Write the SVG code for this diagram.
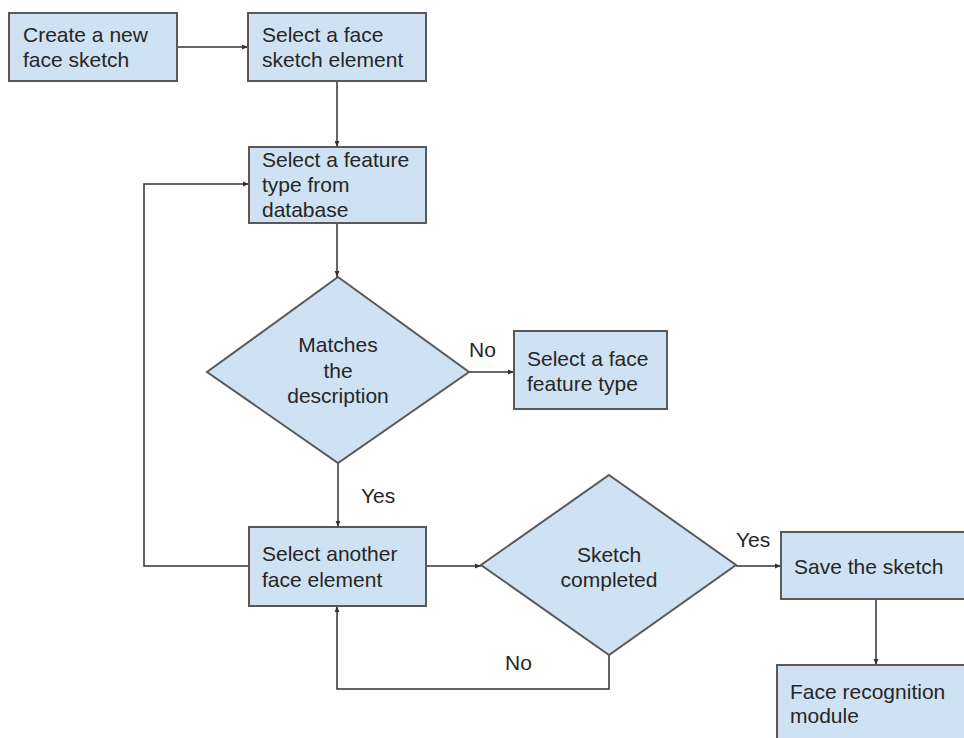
<svg xmlns="http://www.w3.org/2000/svg" width="964" height="738" viewBox="0 0 964 738">
<defs>
<marker id="ah" viewBox="0 0 10 10" refX="10" refY="5" markerWidth="6" markerHeight="6" markerUnits="userSpaceOnUse" orient="auto">
<path d="M0,1 L10,5 L0,9 z" fill="#333333"/>
</marker>
<style>
.n{fill:#cfe2f3;stroke:#595959;stroke-width:2}
.t{font-family:"Liberation Sans",Arial,sans-serif;font-size:21px;fill:#262626}
.c{text-anchor:middle}
.e{fill:none;stroke:#333333;stroke-width:1.5;marker-end:url(#ah)}
.l{fill:none;stroke:#333333;stroke-width:1.5}
</style>
</defs>
<rect width="964" height="738" fill="#ffffff"/>
<g id="connectors">
<path class="e" d="M177,47 L248,47"/>
<path class="e" d="M337,81 L337,147"/>
<path class="e" d="M337,223 L337,277"/>
<path class="e" d="M469,372 L514,372"/>
<path class="e" d="M338,463 L338,527"/>
<path class="e" d="M249,566 L144,566 L144,184 L249,184"/>
<path class="e" d="M426,566 L481,566"/>
<path class="e" d="M736,566 L781,566"/>
<path class="e" d="M876,599 L876,665"/>
<path class="e" d="M609,655 L609,689 L337,689 L337,606"/>
<text class="t" x="469" y="357">No</text>
<text class="t" x="361" y="503">Yes</text>
<text class="t" x="736" y="547">Yes</text>
<text class="t" x="505" y="670">No</text>
</g>
<g id="create">
<rect class="n" x="9" y="13" width="168" height="68"/>
<text class="t" x="23" y="42">Create a new</text>
<text class="t" x="23" y="67">face sketch</text>
</g>
<g id="select-element">
<rect class="n" x="248" y="13" width="178" height="68"/>
<text class="t" x="262" y="42">Select a face</text>
<text class="t" x="262" y="67">sketch element</text>
</g>
<g id="select-feature">
<rect class="n" x="249" y="147" width="177" height="76"/>
<text class="t" x="262" y="167">Select a feature</text>
<text class="t" x="262" y="192">type from</text>
<text class="t" x="262" y="217">database</text>
</g>
<g id="matches">
<polygon class="n" points="338,277 469,372 338,463 207,372"/>
<text class="t c" x="338" y="352">Matches</text>
<text class="t c" x="338" y="378">the</text>
<text class="t c" x="338" y="403">description</text>
</g>
<g id="select-face-feature">
<rect class="n" x="514" y="331" width="153" height="78"/>
<text class="t" x="527" y="366">Select a face</text>
<text class="t" x="527" y="391">feature type</text>
</g>
<g id="select-another">
<rect class="n" x="249" y="527" width="177" height="79"/>
<text class="t" x="262" y="561">Select another</text>
<text class="t" x="262" y="587">face element</text>
</g>
<g id="sketch-completed">
<polygon class="n" points="609,475 736,565 609,655 481,565"/>
<text class="t c" x="609" y="562">Sketch</text>
<text class="t c" x="609" y="587">completed</text>
</g>
<g id="save">
<rect class="n" x="781" y="532" width="200" height="67"/>
<text class="t" x="794" y="574">Save the sketch</text>
</g>
<g id="face-recognition">
<rect class="n" x="777" y="665" width="204" height="90"/>
<text class="t" x="790" y="699">Face recognition</text>
<text class="t" x="790" y="723">module</text>
</g>
</svg>
